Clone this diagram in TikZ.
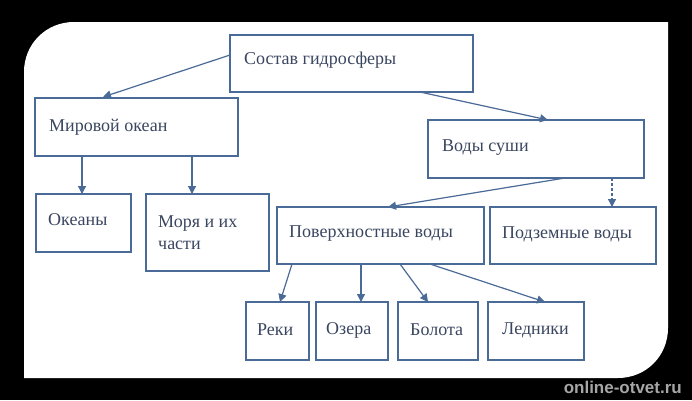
\documentclass[tikz,border=0pt]{standalone}
\usepackage{fontspec}
\setmainfont{Liberation Serif}
\setsansfont{Liberation Sans}
\usetikzlibrary{arrows.meta}
\definecolor{ln}{HTML}{4A6A98}
\definecolor{tx}{HTML}{3A4660}
\begin{document}
\begin{tikzpicture}[x=1pt,y=-1pt,
  bx/.style={draw=ln,line width=1.1pt,fill=white},
  lb/.style={anchor=west,text=tx,font=\fontsize{18}{22}\selectfont,inner sep=0pt},
  ar/.style={draw=ln,line width=1.2pt,-{Triangle[length=8pt,width=8pt]}}]
\useasboundingbox (0,0) rectangle (692,400);
\fill[black] (0,0) rectangle (692,400);
\fill[white] (24,378) -- (24,72) .. controls (24,44) and (46,22) .. (74,22) -- (668,22) -- (668,328) .. controls (668,356) and (646,378) .. (618,378) -- cycle;
\node[anchor=south east,text=gray!70,font=\sffamily\bfseries\fontsize{17}{19}\selectfont,inner sep=0pt] (wm) at (682,394) {online-otvet.ru};
\draw[bx] (230,35) rectangle (473,92); \node[lb] (t0) at (244,60) {Состав гидросферы};
\draw[bx] (35,98) rectangle (238,156); \node[lb] (t1) at (49,127) {Мировой океан};
\draw[bx] (428,120) rectangle (644,178); \node[lb] (t2) at (442,148) {Воды суши};
\draw[bx] (36,194) rectangle (131,252); \node[lb] (t3) at (48,220) {Океаны};
\draw[bx] (146,194) rectangle (269,271); \node[lb,align=left] (t4) at (158,233) {Моря и их\\части};
\draw[bx] (277,207) rectangle (484,264); \node[lb] (t5) at (289,234) {Поверхностные воды};
\draw[bx] (490,207) rectangle (656,264); \node[lb] (t6) at (502,234) {Подземные воды};
\draw[bx] (246,302) rectangle (309,360); \node[lb] (t7) at (257,330) {Реки};
\draw[bx] (316,302) rectangle (388,360); \node[lb] (t8) at (326,330) {Озера};
\draw[bx] (398,302) rectangle (478,360); \node[lb] (t9) at (410,330) {Болота};
\draw[bx] (488,302) rectangle (584,360); \node[lb] (t10) at (502,330) {Ледники};
\coordinate (a0) at (230,55); \coordinate (a1) at (103,97);
\coordinate (b0) at (420,92); \coordinate (b1) at (548,120);
\coordinate (c0) at (565,178); \coordinate (c1) at (388,207);
\coordinate (d0) at (612,178); \coordinate (d1) at (612,207);
\coordinate (e0) at (82,156); \coordinate (e1) at (82,194);
\coordinate (f0) at (192,156); \coordinate (f1) at (192,194);
\coordinate (g0) at (292,264); \coordinate (g1) at (280,302);
\coordinate (h0) at (361,264); \coordinate (h1) at (361,302);
\coordinate (i0) at (400,264); \coordinate (i1) at (428,302);
\coordinate (j0) at (430,264); \coordinate (j1) at (545,302);
\draw[ar] (a0) -- (a1);
\draw[ar] (b0) -- (b1);
\draw[ar] (c0) -- (c1);
\draw[ar,dash pattern=on 3pt off 2pt] (d0) -- (d1);
\draw[ar] (e0) -- (e1);
\draw[ar] (f0) -- (f1);
\draw[ar] (g0) -- (g1);
\draw[ar] (h0) -- (h1);
\draw[ar] (i0) -- (i1);
\draw[ar] (j0) -- (j1);
\end{tikzpicture}
\end{document}
